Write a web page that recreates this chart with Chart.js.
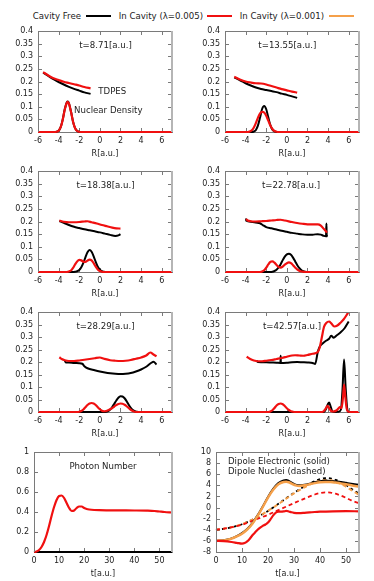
<!DOCTYPE html>
<html><head><meta charset="utf-8">
<script src="https://cdn.jsdelivr.net/npm/chart.js@4"></script>
<style>
html,body{margin:0;padding:0;background:#fff;}
#wrap{position:relative;width:374px;height:581px;overflow:hidden;font-family:"DejaVu Sans",sans-serif;}
canvas{position:absolute;}
.lg{position:absolute;top:10px;font-size:8.6px;color:#222;white-space:nowrap;text-align:right;line-height:12px;}
.ln{position:absolute;top:15px;height:2px;}
</style></head>
<body><div id="wrap">
<div class="lg" style="left:0;width:81px">Cavity Free</div>
<div class="ln" style="left:86px;width:25px;background:#000"></div>
<div class="lg" style="left:100px;width:103px">In Cavity (λ=0.005)</div>
<div class="ln" style="left:207px;width:25px;background:#f01010"></div>
<div class="lg" style="left:220px;width:104px">In Cavity (λ=0.001)</div>
<div class="ln" style="left:329px;width:25px;background:#f5a04a"></div>
</div>
<script>
// ---------- tick labels ----------
const R_TICKS = [-6,-4,-2,0,2,4,6];
const R_LABELS = ['-6','-4','-2','0','2','4','6'];
const E_TICKS = [0,0.05,0.1,0.15,0.2,0.25,0.3,0.35,0.4];
const E_LABELS = ['0','0.05','0.1','0.15','0.2','0.25','0.3','0.35','0.4'];
const T_TICKS = [0,10,20,30,40,50];
const T_LABELS = ['0','10','20','30','40','50'];
const N_TICKS = [0,0.2,0.4,0.6,0.8,1];
const N_LABELS = ['0','0.2','0.4','0.6','0.8','1'];
const D_TICKS = [-8,-6,-4,-2,0,2,4,6,8,10];
const D_LABELS = ['-8','-6','-4','-2','0','2','4','6','8','10'];

// ---------- panel 1 : t=8.71 ----------
const p1_free_R = [-5.5,-5.0,-4.5,-4.0,-3.5,-3.0,-2.5,-2.0,-1.5,-0.9];
const p1_free_E = [0.235,0.222,0.209,0.198,0.188,0.179,0.171,0.164,0.157,0.151];
const p1_cav_R  = [-5.5,-5.0,-4.5,-4.0,-3.5,-3.0,-2.5,-2.0,-1.5,-0.9];
const p1_cav_E  = [0.237,0.224,0.213,0.206,0.199,0.194,0.189,0.184,0.178,0.173];
const p1_rho_R    = [-6,-4.4,-4.2,-4.0,-3.8,-3.6,-3.4,-3.2,-3.1,-3.0,-2.8,-2.6,-2.4,-2.2,-2.0,-1.8,7];
const p1_rho_free = [0,0,0.001,0.005,0.019,0.050,0.091,0.118,0.121,0.114,0.081,0.041,0.015,0.004,0.001,0,0];
const p1_rho_cav  = [0,0,0.001,0.005,0.019,0.049,0.089,0.116,0.119,0.112,0.080,0.041,0.015,0.004,0.001,0,0];

// ---------- panel 2 : t=13.55 ----------
const p2_free_R = [-5.1,-4.5,-4.0,-3.5,-3.0,-2.5,-2.0,-1.5,-1.0,-0.5,0,0.5,1.0];
const p2_free_E = [0.216,0.204,0.193,0.184,0.176,0.170,0.166,0.162,0.158,0.152,0.147,0.141,0.135];
const p2_cav_R  = [-5.1,-4.5,-4.0,-3.5,-3.0,-2.5,-2.0,-1.5,-1.0,-0.5,0,0.5,1.0];
const p2_cav_E  = [0.219,0.207,0.200,0.196,0.193,0.192,0.188,0.182,0.176,0.170,0.165,0.160,0.156];
const p2_rho_free_R = [-6,-3.4,-3.2,-3.0,-2.8,-2.6,-2.4,-2.2,-2.0,-1.8,-1.6,-1.4,-1.2,-1.0,7];
const p2_rho_free   = [0,0,0.002,0.008,0.026,0.057,0.091,0.103,0.090,0.058,0.027,0.009,0.002,0,0];
const p2_rho_cav_R  = [-6,-3.8,-3.6,-3.4,-3.2,-3.0,-2.8,-2.6,-2.4,-2.2,-2.0,-1.8,-1.6,-1.4,-1.2,-1.0,-0.8,7];
const p2_rho_cav    = [0,0,0.002,0.007,0.018,0.036,0.057,0.074,0.080,0.077,0.064,0.045,0.026,0.012,0.004,0.001,0,0];

// ---------- panel 3 : t=18.38 ----------
const p3_free_R = [-3.93,-3.5,-3.0,-2.5,-2.0,-1.5,-1.0,-0.5,0,0.5,1.0,1.5,1.8,2.0];
const p3_free_E = [0.202,0.195,0.186,0.179,0.174,0.169,0.165,0.161,0.157,0.152,0.147,0.143,0.145,0.150];
const p3_cav_R  = [-3.93,-3.5,-3.0,-2.5,-2.0,-1.5,-1.2,-0.8,-0.3,0.2,0.7,1.2,1.6,2.0];
const p3_cav_E  = [0.204,0.199,0.197,0.197,0.198,0.200,0.201,0.197,0.192,0.186,0.181,0.176,0.173,0.172];
const p3_rho_free_R = [-6,-2.6,-2.4,-2.2,-2.0,-1.8,-1.6,-1.4,-1.2,-1.0,-0.8,-0.6,-0.4,-0.2,0,0.2,0.4,0.6,7];
const p3_rho_free   = [0,0,0.001,0.003,0.008,0.019,0.036,0.058,0.078,0.087,0.080,0.062,0.040,0.021,0.009,0.003,0.001,0,0];
const p3_rho_cav_R  = [-6,-3.2,-3.0,-2.8,-2.6,-2.4,-2.2,-2.0,-1.8,-1.6,-1.4,-1.2,-1.0,-0.8,-0.6,-0.4,-0.2,0,0.2,0.4,7];
const p3_rho_cav    = [0,0,0.002,0.006,0.016,0.030,0.042,0.048,0.046,0.041,0.040,0.045,0.049,0.046,0.035,0.021,0.010,0.004,0.001,0,0];

// ---------- panel 4 : t=22.78 ----------
const p4_free_R = [-3.96,-3.94,-3.5,-3.0,-2.6,-2.3,-2.0,-1.5,-1.0,-0.5,0,0.5,1.0,1.5,2.0,2.5,3.0,3.3,3.6,3.8,3.84,3.87,3.9];
const p4_free_E = [0.212,0.203,0.199,0.196,0.193,0.185,0.178,0.173,0.168,0.163,0.159,0.155,0.152,0.149,0.148,0.148,0.150,0.148,0.143,0.142,0.192,0.141,0.146];
const p4_cav_R  = [-3.96,-3.8,-3.5,-3.0,-2.5,-2.0,-1.5,-1.0,-0.6,-0.2,0.5,1.0,1.5,2.0,2.5,3.0,3.3,3.6,3.9];
const p4_cav_E  = [0.210,0.204,0.201,0.200,0.201,0.202,0.204,0.206,0.207,0.204,0.198,0.194,0.191,0.189,0.189,0.189,0.184,0.170,0.156];
const p4_rho_free_R = [-6,-1.6,-1.4,-1.2,-1.0,-0.8,-0.6,-0.4,-0.2,0,0.2,0.4,0.6,0.8,1.0,1.2,1.4,1.6,1.8,2.0,7];
const p4_rho_free   = [0,0,0.001,0.004,0.009,0.018,0.031,0.047,0.061,0.070,0.072,0.068,0.057,0.043,0.028,0.016,0.008,0.003,0.001,0,0];
const p4_rho_cav_R  = [-6,-2.6,-2.4,-2.2,-2.0,-1.8,-1.6,-1.4,-1.2,-1.0,-0.8,-0.6,-0.4,-0.2,0,0.2,0.4,0.6,0.8,1.0,1.2,1.4,1.6,1.8,7];
const p4_rho_cav    = [0,0,0.002,0.007,0.017,0.030,0.040,0.042,0.037,0.028,0.020,0.017,0.021,0.029,0.035,0.038,0.035,0.027,0.018,0.010,0.005,0.002,0.001,0,0];

// ---------- panel 5 : t=28.29 ----------
const p5_free_R = [-3.4,-3.3,-3.0,-2.5,-2.0,-1.7,-1.5,-1.2,-0.5,0,0.5,1.0,1.5,2.0,2.5,3.0,3.5,4.0,4.5,5.0,5.2,5.5];
const p5_free_E = [0.205,0.198,0.198,0.196,0.195,0.193,0.183,0.175,0.167,0.162,0.158,0.155,0.153,0.152,0.153,0.156,0.162,0.170,0.181,0.197,0.201,0.190];
const p5_cav_R  = [-3.93,-3.7,-3.4,-3.0,-2.5,-2.0,-1.5,-1.0,-0.5,0,0.4,1.0,1.5,2.0,2.5,3.0,3.5,4.0,4.5,4.9,5.2,5.5];
const p5_cav_E  = [0.219,0.212,0.207,0.204,0.204,0.206,0.209,0.212,0.215,0.218,0.213,0.207,0.205,0.204,0.205,0.208,0.213,0.218,0.226,0.238,0.230,0.223];
const p5_rho_free_R = [-6,0.4,0.6,0.8,1.0,1.2,1.4,1.6,1.8,2.0,2.2,2.4,2.6,2.8,3.0,3.2,3.4,3.6,3.8,7];
const p5_rho_free   = [0,0,0.001,0.004,0.010,0.020,0.033,0.046,0.057,0.063,0.062,0.055,0.043,0.029,0.017,0.008,0.003,0.001,0,0];
const p5_rho_cav_R  = [-6,-2.2,-2.0,-1.8,-1.6,-1.4,-1.2,-1.0,-0.8,-0.6,-0.4,-0.2,0,0.2,0.4,0.6,0.8,1.0,1.2,1.4,1.6,1.8,2.0,2.2,2.4,2.6,2.8,3.0,3.2,3.4,3.6,7];
const p5_rho_cav    = [0,0,0.001,0.004,0.010,0.019,0.028,0.034,0.036,0.034,0.028,0.019,0.011,0.005,0.003,0.004,0.007,0.011,0.016,0.022,0.028,0.032,0.034,0.033,0.029,0.023,0.016,0.009,0.004,0.001,0,0];

// ---------- panel 6 : t=42.57 ----------
const p6_free_R = [-2.93,-2.8,-2.0,-1.5,-1.0,-0.62,-0.6,-0.58,0,0.5,1.0,1.5,2.0,2.5,2.75,3.0,3.2,3.5,3.8,4.1,4.3,4.55,4.8,5.2,5.6,6.0];
const p6_free_E = [0.205,0.200,0.199,0.198,0.197,0.196,0.225,0.196,0.197,0.199,0.200,0.199,0.198,0.196,0.192,0.240,0.262,0.275,0.285,0.293,0.305,0.297,0.305,0.318,0.335,0.362];
const p6_cav_R  = [-3.9,-3.6,-3.2,-2.8,-2.4,-2.0,-1.5,-1.0,-0.5,0,0.5,0.8,1.2,1.6,2.0,2.5,3.0,3.2,3.4,3.6,3.8,4.1,4.3,4.6,4.9,5.2,5.5,5.8,6.0];
const p6_cav_E  = [0.221,0.213,0.206,0.203,0.203,0.205,0.208,0.212,0.216,0.221,0.226,0.227,0.226,0.225,0.228,0.233,0.240,0.260,0.300,0.340,0.355,0.362,0.355,0.342,0.346,0.357,0.370,0.388,0.402];
const p6_rho_free_R = [-6,3.6,3.8,4.0,4.1,4.25,4.4,4.6,5.0,5.25,5.4,5.55,5.7,5.85,6.0,7];
const p6_rho_free   = [0,0,0.012,0.033,0.038,0.022,0.004,0,0.001,0.010,0.090,0.210,0.100,0.015,0,0];
const p6_rho_cav_R  = [-6,-1.8,-1.6,-1.4,-1.2,-1.0,-0.8,-0.6,-0.4,-0.2,0,0.2,0.4,0.6,0.8,3.4,3.6,3.8,3.95,4.1,4.3,4.5,4.8,5.0,5.15,5.3,5.45,5.55,5.65,5.8,5.95,6.1,7];
const p6_rho_cav    = [0,0,0.002,0.007,0.016,0.026,0.032,0.034,0.031,0.024,0.015,0.008,0.003,0.001,0,0,0.004,0.016,0.025,0.016,0.004,0.002,0.006,0.014,0.020,0.015,0.060,0.110,0.070,0.015,0.002,0,0];

// ---------- panel 7 : photon number ----------
const p7_t      = [0,1,2,3,4,5,6,7,8,9,10,11,12,13,14,15,16,17,18,19,20,21,22,24,26,30,35,40,45,48,50,52,55];
const p7_n_free = [0,0,0,0,0,0,0,0,0,0,0,0,0,0,0,0,0,0,0,0,0,0,0,0,0,0,0,0,0,0,0,0,0];
const p7_n_cav  = [0,0.005,0.02,0.05,0.10,0.17,0.26,0.36,0.45,0.52,0.56,0.565,0.54,0.49,0.44,0.41,0.415,0.44,0.455,0.455,0.44,0.43,0.425,0.42,0.418,0.417,0.416,0.415,0.413,0.41,0.405,0.40,0.395];

// ---------- panel 8 : dipoles ----------
const p8_t_el      = [0,2,4,6,8,10,12,14,16,18,20,22,24,26,27,28,30,31,32,34,36,38,40,42,44,46,48,50,52,55];
const p8_el_free   = [-6.0,-5.95,-5.8,-5.55,-5.15,-4.6,-3.85,-2.8,-1.4,0.2,1.9,3.35,4.4,4.9,4.95,4.8,4.25,4.05,4.0,4.1,4.3,4.55,4.75,4.85,4.8,4.7,4.6,4.45,4.3,4.1];
const p8_el_l001   = [-6.0,-5.95,-5.82,-5.6,-5.2,-4.7,-3.95,-2.9,-1.5,0.1,1.8,3.2,4.2,4.6,4.65,4.55,4.1,3.95,3.9,4.0,4.2,4.4,4.55,4.6,4.6,4.5,4.35,4.2,4.0,3.75];
const p8_t_el_cav  = [0,3,6,8,10,11,12,13,14,15,16,17,18,19,20,21,22,23,24,25,26,27,28,29,30,32,34,36,38,40,45,50,55];
const p8_el_cav    = [-6.0,-6.05,-6.2,-6.35,-6.5,-6.4,-6.1,-5.6,-5.0,-4.5,-4.0,-3.6,-3.3,-3.05,-2.7,-2.1,-1.4,-0.9,-0.75,-0.75,-0.7,-0.6,-0.7,-0.85,-0.95,-1.0,-0.95,-0.88,-0.8,-0.75,-0.68,-0.65,-0.68];
const p8_t_nuc     = [0,5,10,15,20,25,30,35,38,40,42,44,46,48,50,52,55];
const p8_nuc_free  = [-4.0,-3.65,-3.0,-1.95,-0.6,1.0,2.65,4.05,4.75,5.1,5.3,5.25,5.0,4.6,4.05,3.4,2.5];
const p8_nuc_l001  = [-4.0,-3.65,-3.0,-1.95,-0.6,0.95,2.55,3.9,4.55,4.85,4.95,4.9,4.65,4.25,3.75,3.15,2.3];
const p8_nuc_cav   = [-4.0,-3.65,-3.1,-2.2,-1.3,-0.25,0.8,1.8,2.35,2.6,2.75,2.7,2.5,2.15,1.75,1.3,0.78];

// ---------- drawing ----------
const TXT = '#222';
const BLACK = '#000', RED = '#f01010', ORANGE = '#f5a04a';
const FRAME = '#7a7a7a';
const TICKFONT = {family: '"DejaVu Sans", sans-serif', size: 8};
const NOTEFONT = '8.6px "DejaVu Sans", sans-serif';
const YW = 36, PT = 12, PR = 6, XH = 28;
const wrap = document.getElementById('wrap');

function line(xs, ys, color, extra) {
  return Object.assign({
    data: xs.map((x, i) => ({x: x, y: ys[i]})),
    borderColor: color, backgroundColor: color, borderWidth: 2,
    pointRadius: 0, fill: false, cubicInterpolationMode: 'monotone', clip: false
  }, extra || {});
}

function drawTicks(chart) {
  const ctx = chart.ctx;
  const ca = chart.chartArea;
  const xsc = chart.scales.x, ysc = chart.scales.y;
  ctx.save();
  ctx.strokeStyle = FRAME;
  ctx.lineWidth = 1;
  ctx.beginPath();
  for (let i = 0; i < xsc.ticks.length; i++) {
    const px = Math.round(xsc.getPixelForValue(xsc.ticks[i].value)) + 0.5;
    ctx.moveTo(px, ca.bottom); ctx.lineTo(px, ca.bottom - 4);
    ctx.moveTo(px, ca.top); ctx.lineTo(px, ca.top + 4);
  }
  for (let i = 0; i < ysc.ticks.length; i++) {
    const py = Math.round(ysc.getPixelForValue(ysc.ticks[i].value)) + 0.5;
    ctx.moveTo(ca.left, py); ctx.lineTo(ca.left + 4, py);
    ctx.moveTo(ca.right, py); ctx.lineTo(ca.right - 4, py);
  }
  ctx.stroke();
  ctx.restore();
}

function drawFrameTop(chart) {
  const ctx = chart.ctx;
  const ca = chart.chartArea;
  const L = Math.round(ca.left) + 0.5, T = Math.round(ca.top) + 0.5, R = Math.round(ca.right), B = Math.round(ca.bottom);
  ctx.save();
  ctx.strokeStyle = FRAME;
  ctx.lineWidth = 1;
  ctx.beginPath();
  ctx.moveTo(L, B); ctx.lineTo(L, T); ctx.lineTo(R, T);
  ctx.stroke();
  ctx.strokeStyle = '#b5b5b5';
  ctx.lineWidth = 2;
  ctx.beginPath();
  ctx.moveTo(R, T - 0.5); ctx.lineTo(R, B);
  ctx.stroke();
  ctx.restore();
}

function panelPlugin(list) {
  return {
    id: 'deco',
    beforeDatasetsDraw(chart) { drawTicks(chart); },
    afterDatasetsDraw(chart) {
      const ctx = chart.ctx;
      const xsc = chart.scales.x, ysc = chart.scales.y;
      ctx.save();
      ctx.font = NOTEFONT;
      ctx.fillStyle = TXT;
      ctx.textBaseline = 'middle';
      list.forEach(n => {
        ctx.textAlign = n.align || 'center';
        ctx.fillText(n.text, xsc.getPixelForValue(n.x), ysc.getPixelForValue(n.y));
      });
      ctx.restore();
    },
    afterDraw(chart) { drawFrameTop(chart); }
  };
}

function axis(min, max, ticks, labels, isX, title) {
  const a = {
    type: 'linear', min: min, max: max,
    grid: {display: false, drawTicks: false, tickLength: 0},
    border: {display: true, color: FRAME, width: 1, z: -1},
    afterBuildTicks: s => { s.ticks = ticks.map(v => ({value: v})); },
    ticks: {
      autoSkip: false, maxRotation: 0, padding: isX ? 4 : 5,
      font: TICKFONT, color: TXT,
      callback: (v, i) => labels[i]
    }
  };
  if (isX) {
    a.title = {display: true, text: title, font: TICKFONT, color: TXT, padding: {top: 0, bottom: 1.5}};
    a.afterFit = s => { s.height = XH; };
  } else {
    a.afterFit = s => { s.width = YW; };
  }
  return a;
}

function makeChart(rect, xAxis, yAxis, datasets, notes) {
  const l = rect[0], t = rect[1], r = rect[2], b = rect[3];
  const c = document.createElement('canvas');
  const w = YW + (r - l) + PR, h = PT + (b - t) + XH;
  c.width = w; c.height = h;
  c.style.left = (l - YW) + 'px'; c.style.top = (t - PT) + 'px';
  c.style.width = w + 'px'; c.style.height = h + 'px';
  wrap.appendChild(c);
  new Chart(c, {
    type: 'line',
    data: {datasets: datasets},
    options: {
      responsive: false, animation: false, devicePixelRatio: 1,
      layout: {padding: {top: PT, right: PR, left: 0, bottom: 0}},
      plugins: {legend: {display: false}, tooltip: {enabled: false}},
      scales: {x: xAxis, y: yAxis}
    },
    plugins: [panelPlugin(notes)]
  });
}

const CLIPE = {left: 2, right: 2, top: 0, bottom: 3};
function rPanel(rect, freeR, freeE, cavR, cavE, rhoFreeR, rhoFree, rhoCavR, rhoCav, notes) {
  makeChart(rect,
    axis(-6, 7, R_TICKS, R_LABELS, true, 'R[a.u.]'),
    axis(0, 0.4, E_TICKS, E_LABELS, false),
    [
      line(rhoCavR, rhoCav, RED, {borderWidth: 2.2}),
      line(cavR, cavE, RED, {borderWidth: 2.2, clip: CLIPE}),
      line(rhoFreeR, rhoFree, BLACK),
      line(freeR, freeE, BLACK, {clip: CLIPE})
    ], notes);
}

rPanel([38, 31, 172, 132], p1_free_R, p1_free_E, p1_cav_R, p1_cav_E, p1_rho_R, p1_rho_free, p1_rho_R, p1_rho_cav,
  [{text: 't=8.71[a.u.]', x: 0.55, y: 0.34},
   {text: 'TDPES', x: -0.15, y: 0.16, align: 'left'},
   {text: 'Nuclear Density', x: -2.5, y: 0.084, align: 'left'}]);
rPanel([225, 31, 359, 132], p2_free_R, p2_free_E, p2_cav_R, p2_cav_E, p2_rho_free_R, p2_rho_free, p2_rho_cav_R, p2_rho_cav,
  [{text: 't=13.55[a.u.]', x: 0.05, y: 0.34}]);
rPanel([38, 171, 172, 272], p3_free_R, p3_free_E, p3_cav_R, p3_cav_E, p3_rho_free_R, p3_rho_free, p3_rho_cav_R, p3_rho_cav,
  [{text: 't=18.38[a.u.]', x: 0.55, y: 0.34}]);
rPanel([225, 171, 359, 272], p4_free_R, p4_free_E, p4_cav_R, p4_cav_E, p4_rho_free_R, p4_rho_free, p4_rho_cav_R, p4_rho_cav,
  [{text: 't=22.78[a.u.]', x: 0.4, y: 0.34}]);
rPanel([38, 312, 172, 412], p5_free_R, p5_free_E, p5_cav_R, p5_cav_E, p5_rho_free_R, p5_rho_free, p5_rho_cav_R, p5_rho_cav,
  [{text: 't=28.29[a.u.]', x: 0.55, y: 0.34}]);
rPanel([225, 312, 359, 412], p6_free_R, p6_free_E, p6_cav_R, p6_cav_E, p6_rho_free_R, p6_rho_free, p6_rho_cav_R, p6_rho_cav,
  [{text: 't=42.57[a.u.]', x: 0.5, y: 0.34}]);

makeChart([34, 452, 172, 552],
  axis(0, 55, T_TICKS, T_LABELS, true, 't[a.u.]'),
  axis(0, 1, N_TICKS, N_LABELS, false),
  [line(p7_t, p7_n_cav, RED, {borderWidth: 2.2}), line(p7_t, p7_n_free, BLACK)],
  [{text: 'Photon Number', x: 27.5, y: 0.855}]);

const DASH = {borderDash: [4, 3]};
makeChart([216, 452, 359, 552],
  axis(0, 55, T_TICKS, T_LABELS, true, 't[a.u.]'),
  axis(-8, 10, D_TICKS, D_LABELS, false),
  [
    line(p8_t_el_cav, p8_el_cav, RED, {borderWidth: 2.2}),
    line(p8_t_el, p8_el_l001, ORANGE, {borderWidth: 2.5}),
    line(p8_t_el, p8_el_free, BLACK),
    line(p8_t_nuc, p8_nuc_cav, RED, Object.assign({borderWidth: 1.8}, DASH)),
    line(p8_t_nuc, p8_nuc_l001, ORANGE, Object.assign({borderWidth: 2}, DASH)),
    line(p8_t_nuc, p8_nuc_free, BLACK, Object.assign({borderWidth: 1.8, borderDash: [3, 3]}))
  ],
  [{text: 'Dipole Electronic (solid)', x: 4.6, y: 8.25, align: 'left'},
   {text: 'Dipole Nuclei (dashed)', x: 4.6, y: 6.45, align: 'left'}]);
</script>
</body></html>
